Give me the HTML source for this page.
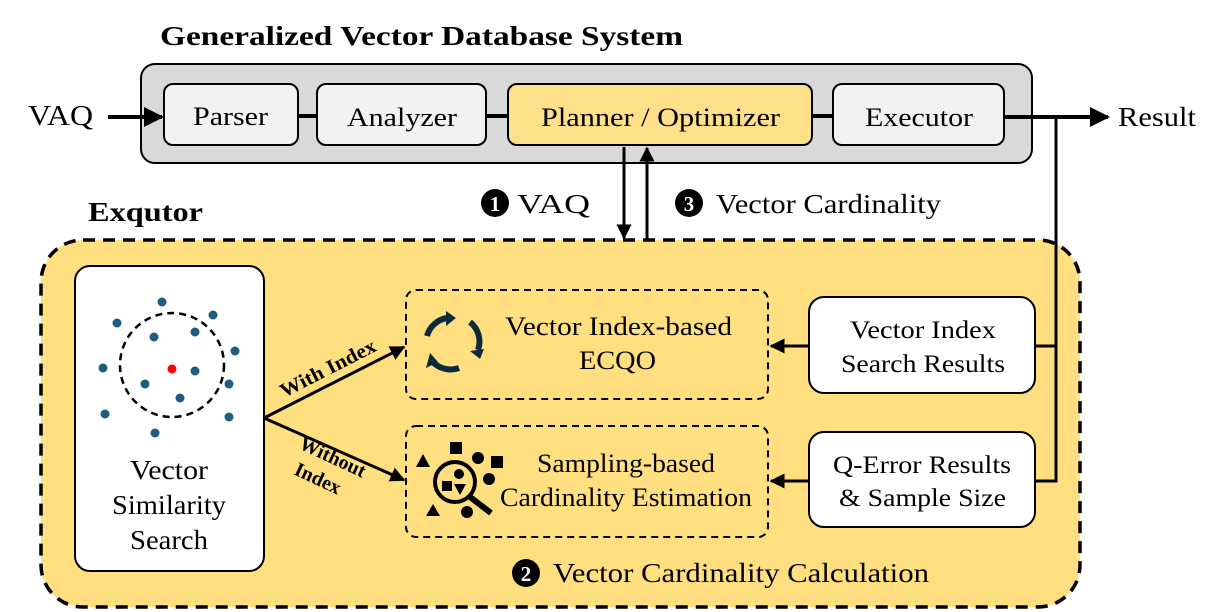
<!DOCTYPE html>
<html><head><meta charset="utf-8"><style>
html,body{margin:0;padding:0;background:#fff;}
svg{display:block;}
text{font-family:"Liberation Serif",serif;fill:#000;}
</style></head><body>
<svg width="1225" height="612" viewBox="0 0 1225 612" xmlns="http://www.w3.org/2000/svg">
<defs>
<marker id="ah" viewBox="0 0 10 10" refX="9" refY="5" markerWidth="5" markerHeight="5" orient="auto" markerUnits="strokeWidth"><path d="M0,0 L10,5 L0,10 z" fill="#000"/></marker>
</defs>
<text x="160" y="45" font-size="27" font-weight="bold" textLength="523" lengthAdjust="spacingAndGlyphs">Generalized Vector Database System</text>
<rect x="141" y="64" width="891" height="99" rx="14" fill="#d9d9d9" stroke="#000" stroke-width="2"/>
<line x1="298" y1="116" x2="317" y2="116" stroke="#000" stroke-width="4"/>
<line x1="486" y1="116" x2="508" y2="116" stroke="#000" stroke-width="4"/>
<line x1="812" y1="116" x2="833" y2="116" stroke="#000" stroke-width="4"/>
<rect x="164" y="84" width="134" height="61" rx="9" fill="#f2f2f2" stroke="#000" stroke-width="2"/>
<rect x="317" y="84" width="169" height="61" rx="9" fill="#f2f2f2" stroke="#000" stroke-width="2"/>
<rect x="508" y="84" width="304" height="61" rx="9" fill="#ffe08a" stroke="#000" stroke-width="2"/>
<rect x="833" y="84" width="171" height="61" rx="9" fill="#f2f2f2" stroke="#000" stroke-width="2"/>
<text x="193" y="125" font-size="26" textLength="75" lengthAdjust="spacingAndGlyphs">Parser</text>
<text x="347" y="126" font-size="26" textLength="110" lengthAdjust="spacingAndGlyphs">Analyzer</text>
<text x="541" y="126" font-size="26" textLength="239" lengthAdjust="spacingAndGlyphs">Planner / Optimizer</text>
<text x="865" y="126" font-size="26" textLength="108" lengthAdjust="spacingAndGlyphs">Executor</text>
<text x="28" y="125" font-size="28" textLength="65" lengthAdjust="spacingAndGlyphs">VAQ</text>
<line x1="108" y1="117" x2="162" y2="117" stroke="#000" stroke-width="4" marker-end="url(#ah)"/>
<line x1="1004" y1="117" x2="1108" y2="117" stroke="#000" stroke-width="4" marker-end="url(#ah)"/>
<text x="1118" y="126" font-size="27" textLength="78" lengthAdjust="spacingAndGlyphs">Result</text>
<rect x="41" y="240" width="1039" height="367" rx="42" fill="#ffdf80" stroke="#000" stroke-width="3.5" stroke-dasharray="12,8"/>
<text x="88" y="221" font-size="27" font-weight="bold" textLength="115" lengthAdjust="spacingAndGlyphs">Exqutor</text>
<polyline points="1056,117 1056,481 1034,481" fill="none" stroke="#000" stroke-width="3"/>
<line x1="1034" y1="346" x2="1056" y2="346" stroke="#000" stroke-width="3"/>
<line x1="624" y1="147" x2="624" y2="238" stroke="#000" stroke-width="3" marker-end="url(#ah)"/>
<line x1="647" y1="240" x2="647" y2="148" stroke="#000" stroke-width="3" marker-end="url(#ah)"/>
<circle cx="495" cy="203" r="14" fill="#000"/><text x="495" y="211" font-size="21" font-weight="bold" text-anchor="middle" style="fill:#fff">1</text>
<text x="517" y="213" font-size="27" textLength="73" lengthAdjust="spacingAndGlyphs">VAQ</text>
<circle cx="689" cy="203" r="14" fill="#000"/><text x="689" y="211" font-size="21" font-weight="bold" text-anchor="middle" style="fill:#fff">3</text>
<text x="716" y="213" font-size="27" textLength="225" lengthAdjust="spacingAndGlyphs">Vector Cardinality</text>
<rect x="75" y="266" width="189" height="305" rx="15" fill="#fff" stroke="#000" stroke-width="2"/>
<circle cx="172" cy="365" r="52" fill="none" stroke="#000" stroke-width="2.5" stroke-dasharray="7,5"/>
<g fill="#1b5e80">
<circle cx="162" cy="302" r="4.5"/><circle cx="213" cy="315" r="4.5"/><circle cx="117" cy="323" r="4.5"/>
<circle cx="154" cy="337" r="4.5"/><circle cx="195" cy="332" r="4.5"/><circle cx="235" cy="351" r="4.5"/>
<circle cx="103" cy="368" r="4.5"/><circle cx="195" cy="371" r="4.5"/><circle cx="145" cy="384" r="4.5"/>
<circle cx="229" cy="384" r="4.5"/><circle cx="180" cy="398" r="4.5"/><circle cx="105" cy="414" r="4.5"/>
<circle cx="229" cy="417" r="4.5"/><circle cx="155" cy="433" r="4.5"/>
</g>
<circle cx="172" cy="369" r="4.5" fill="#ff0000"/>
<text x="130" y="479" font-size="27" textLength="78" lengthAdjust="spacingAndGlyphs">Vector</text>
<text x="112" y="514" font-size="27" textLength="114" lengthAdjust="spacingAndGlyphs">Similarity</text>
<text x="130" y="549" font-size="27" textLength="78" lengthAdjust="spacingAndGlyphs">Search</text>
<line x1="264" y1="418" x2="404" y2="347" stroke="#000" stroke-width="3" marker-end="url(#ah)"/>
<line x1="264" y1="418" x2="404" y2="480" stroke="#000" stroke-width="3" marker-end="url(#ah)"/>
<text x="0" y="0" font-size="20" font-weight="bold" transform="translate(284,398) rotate(-27)" textLength="105" lengthAdjust="spacingAndGlyphs">With Index</text>
<text x="0" y="0" font-size="20" font-weight="bold" transform="translate(298,448) rotate(25)">Without</text>
<text x="0" y="0" font-size="20" font-weight="bold" transform="translate(293,474) rotate(25)">Index</text>
<rect x="406" y="290" width="362" height="109" rx="10" fill="none" stroke="#000" stroke-width="2" stroke-dasharray="7,5"/>
<rect x="406" y="426" width="362" height="111" rx="10" fill="none" stroke="#000" stroke-width="2" stroke-dasharray="7,5"/>
<g fill="none" stroke="#0d2a3a" stroke-width="6">
<path d="M427,336 A25,25 0 0 1 447,318"/>
<path d="M470,322 A25,25 0 0 1 478,350"/>
<path d="M459,368 A25,25 0 0 1 431,360"/>
</g>
<g fill="#0d2a3a">
<path d="M446,311 L456,318 L446,326 z"/>
<path d="M470,351 L484,349 L480,359 z"/>
<path d="M430,353 L426,368 L438,362 z"/>
</g>
<text x="505" y="335" font-size="26" textLength="227" lengthAdjust="spacingAndGlyphs">Vector Index-based</text>
<text x="579" y="369" font-size="26" textLength="77" lengthAdjust="spacingAndGlyphs">ECQO</text>
<g fill="#000">
<rect x="450" y="442" width="12" height="12"/>
<path d="M423,454 L430,467 L416,467 z"/>
<circle cx="478" cy="458" r="6"/>
<rect x="491" y="456" width="12" height="12"/>
<circle cx="459" cy="474" r="5"/>
<rect x="442" y="481" width="10" height="10"/>
<path d="M454,484 L466,484 L460,495 z"/>
<circle cx="489" cy="479" r="6"/>
<path d="M433,504 L440,516 L426,516 z"/>
<circle cx="467" cy="512" r="6"/>
</g>
<circle cx="455" cy="482" r="20" fill="none" stroke="#000" stroke-width="4"/>
<line x1="470" y1="497" x2="491" y2="513" stroke="#000" stroke-width="6"/>
<text x="537" y="472" font-size="26" textLength="178" lengthAdjust="spacingAndGlyphs">Sampling-based</text>
<text x="500" y="506" font-size="26" textLength="252" lengthAdjust="spacingAndGlyphs">Cardinality Estimation</text>
<rect x="809" y="297" width="226" height="96" rx="15" fill="#fff" stroke="#000" stroke-width="2"/>
<rect x="809" y="432" width="226" height="95" rx="15" fill="#fff" stroke="#000" stroke-width="2"/>
<text x="850" y="338" font-size="25" textLength="146" lengthAdjust="spacingAndGlyphs">Vector Index</text>
<text x="841" y="372" font-size="25" textLength="164" lengthAdjust="spacingAndGlyphs">Search Results</text>
<text x="833" y="473" font-size="25" textLength="178" lengthAdjust="spacingAndGlyphs">Q-Error Results</text>
<text x="839" y="506" font-size="25" textLength="167" lengthAdjust="spacingAndGlyphs">&amp; Sample Size</text>
<line x1="809" y1="346" x2="771" y2="346" stroke="#000" stroke-width="3" marker-end="url(#ah)"/>
<line x1="809" y1="481" x2="771" y2="481" stroke="#000" stroke-width="3" marker-end="url(#ah)"/>
<circle cx="526" cy="573" r="14" fill="#000"/><text x="526" y="581" font-size="21" font-weight="bold" text-anchor="middle" style="fill:#fff">2</text>
<text x="553" y="582" font-size="27" textLength="376" lengthAdjust="spacingAndGlyphs">Vector Cardinality Calculation</text>
</svg>
</body></html>
